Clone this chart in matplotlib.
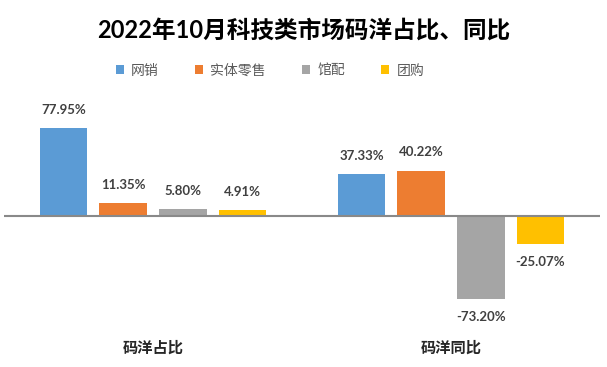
import matplotlib
matplotlib.use("Agg")
import matplotlib.pyplot as plt
import numpy as np

plt.rcParams['font.family'] = ['Lato', 'Noto Sans CJK SC', 'DejaVu Sans']

# data
groups = ['码洋占比', '码洋同比']
series = ['网销', '实体零售', '馆配', '团购']
colors = ['#5B9BD5', '#ED7D31', '#A5A5A5', '#FFC000']
share = [77.95, 11.35, 5.80, 4.91]
yoy = [37.33, 40.22, -73.20, -25.07]

values = np.array([share, yoy]).T  # rows = series

fig = plt.figure(figsize=(6.07, 3.67), dpi=100)
ax = fig.add_axes([4/607, (367-329)/367, 596/607, 226/367])

x = np.arange(len(groups))
w = 0.16
step = 0.2
for i, name in enumerate(series):
    xs = x + (i - 1.5) * step
    ax.bar(xs, values[i], w, color=colors[i], label=name, zorder=2)
    for xx, v in zip(xs, values[i]):
        off = 13 if v >= 0 else -13
        ax.annotate(f'{v:.2f}%', (xx, v), xytext=(0, off), textcoords='offset points',
                    ha='center', va='center', fontsize=9.5, fontweight='bold', color='#404040')

ax.axhline(0, color='#898989', lw=1.5, zorder=3)
ax.set_xlim(-0.5, 1.5)
ax.set_ylim(-100, 100)
for s in ax.spines.values():
    s.set_visible(False)
ax.set_yticks([])
ax.set_xticks(x)
ax.set_xticklabels(groups, fontsize=11, color='#262626', fontweight='bold')
ax.tick_params(axis='x', length=0, pad=9)

fig.text(0.5, 1 - 30/367, '2022年10月科技类市场码洋占比、同比', ha='center', va='center',
         fontsize=17, fontweight='bold', color='black')

leg = fig.legend(loc='center', bbox_to_anchor=(270/607, 1 - 70/367), ncol=4, frameon=False,
                 fontsize=10, handlelength=0.6, handleheight=0.6, columnspacing=2.6, handletextpad=0.5)
for t in leg.get_texts():
    t.set_color('#595959')

fig.savefig('out.png', dpi=100)
